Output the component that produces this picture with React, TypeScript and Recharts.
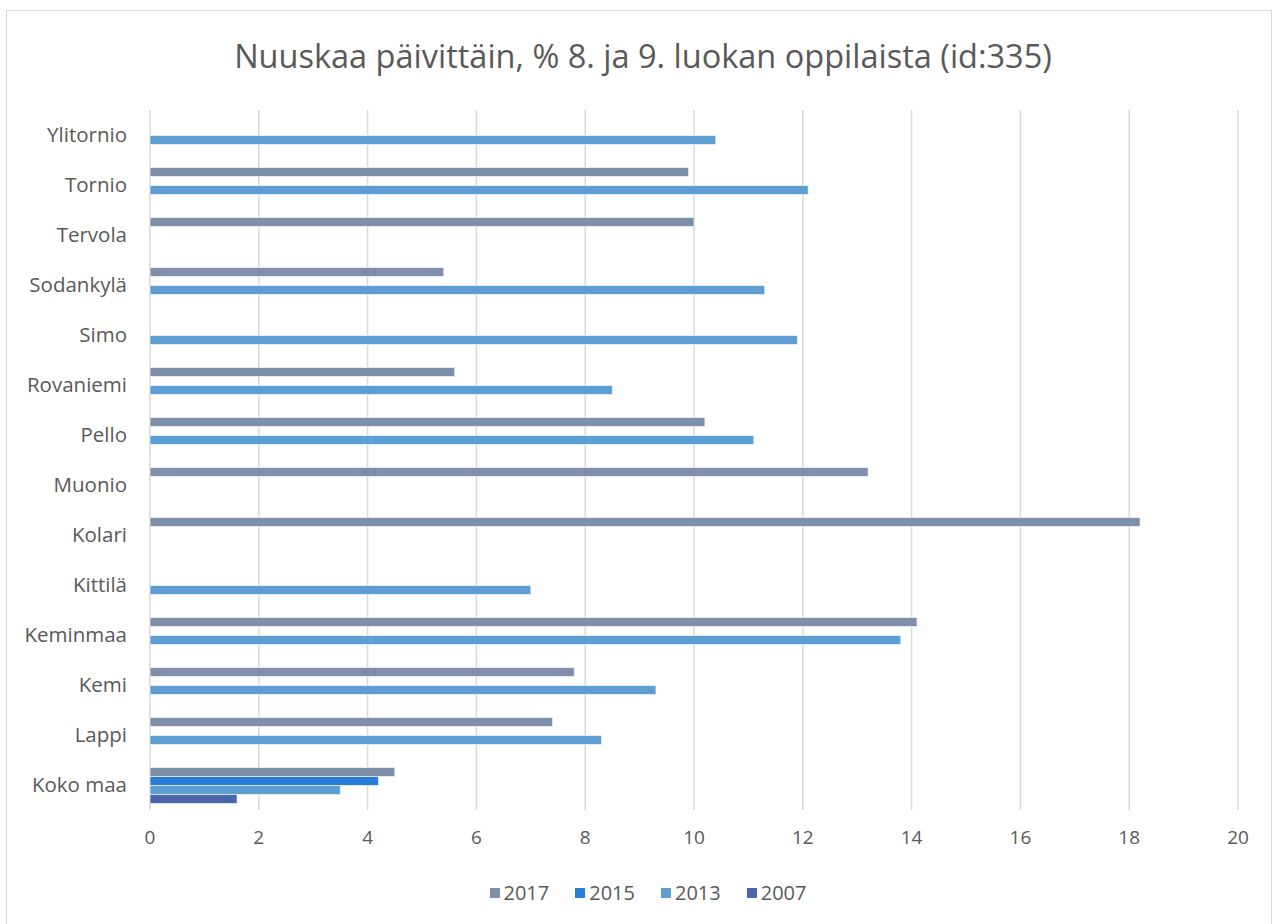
import { BarChart, Bar, XAxis, YAxis, CartesianGrid, Legend } from 'recharts'

const categories = [
    'Ylitornio', 'Tornio', 'Tervola', 'Sodankylä', 'Simo', 'Rovaniemi', 'Pello',
    'Muonio', 'Kolari', 'Kittilä', 'Keminmaa', 'Kemi', 'Lappi', 'Koko maa',
]
const v2017 = [null, 9.9, 10.0, 5.4, null, 5.6, 10.2, 13.2, 18.2, null, 14.1, 7.8, 7.4, 4.5]
const v2015 = [null, null, null, null, null, null, null, null, null, null, null, null, null, 4.2]
const v2013 = [10.4, 12.1, null, 11.3, 11.9, 8.5, 11.1, null, null, 7.0, 13.8, 9.3, 8.3, 3.5]
const v2007 = [null, null, null, null, null, null, null, null, null, null, null, null, null, 1.6]
const xTicks = [0, 2, 4, 6, 8, 10, 12, 14, 16, 18, 20]

const series = [
    { key: '2017', color: '#7f8fa9' },
    { key: '2015', color: '#2a7dd6' },
    { key: '2013', color: '#5f9ed3' },
    { key: '2007', color: '#4a65ac' },
]

const data = categories.map((name, i) => ({
    name,
    '2017': v2017[i],
    '2015': v2015[i],
    '2013': v2013[i],
    '2007': v2007[i],
}))

const font = '"Open Sans", sans-serif'
const textColor = '#595959'

function LegendBox() {
    return (
        <div style={{ display: 'flex', justifyContent: 'center', fontFamily: font, fontSize: 20, color: textColor }}>
            {series.map(s => (
                <div key={s.key} style={{ display: 'flex', alignItems: 'center', margin: '0 13px' }}>
                    <span style={{ width: 10, height: 10, background: s.color, display: 'inline-block', marginRight: 4 }} />
                    <span>{s.key}</span>
                </div>
            ))}
        </div>
    )
}

export default function App() {
    return (
        <div style={{ position: 'absolute', left: 0, top: 0, width: 1276, height: 924, background: '#fff' }}>
            <div style={{
                position: 'absolute', left: 6, top: 10, width: 1266, height: 920,
                border: '1.5px solid #d9d9d9', boxSizing: 'border-box',
            }} />
            <div style={{
                position: 'absolute', left: 0, top: 33, width: 1286, textAlign: 'center',
                fontFamily: font, fontSize: 32.5, color: textColor,
            }}>
                Nuuskaa päivittäin, % 8. ja 9. luokan oppilaista (id:335)
            </div>
            <BarChart
                width={1276}
                height={924}
                data={data}
                layout="vertical"
                margin={{ top: 110, right: 38, bottom: 74, left: 10 }}
                barCategoryGap="15%"
                barGap={0}
                style={{ position: 'absolute', left: 0, top: 0 }}
            >
                <CartesianGrid horizontal={false} stroke="#d9d9d9" strokeWidth={1.5} />
                <XAxis
                    type="number"
                    domain={[0, 20]}
                    ticks={xTicks}
                    axisLine={false}
                    tickLine={false}
                    tickMargin={15}
                    height={40}
                    tick={{ fill: textColor, fontSize: 19, fontFamily: font }}
                />
                <YAxis
                    type="category"
                    dataKey="name"
                    width={140}
                    axisLine={false}
                    tickLine={false}
                    tickMargin={17}
                    interval={0}
                    tick={{ fill: textColor, fontSize: 20.5, fontFamily: font }}
                />
                <Legend
                    layout="horizontal"
                    verticalAlign="middle"
                    align="center"
                    wrapperStyle={{ top: 879, left: 0, width: 1296 }}
                    content={() => <LegendBox />}
                />
                {series.map(s => (
                    <Bar
                        key={s.key}
                        dataKey={s.key}
                        fill={s.color}
                        stroke="#ffffff"
                        strokeOpacity={0.6}
                        strokeWidth={1}
                        isAnimationActive={false}
                    />
                ))}
            </BarChart>
        </div>
    )
}
